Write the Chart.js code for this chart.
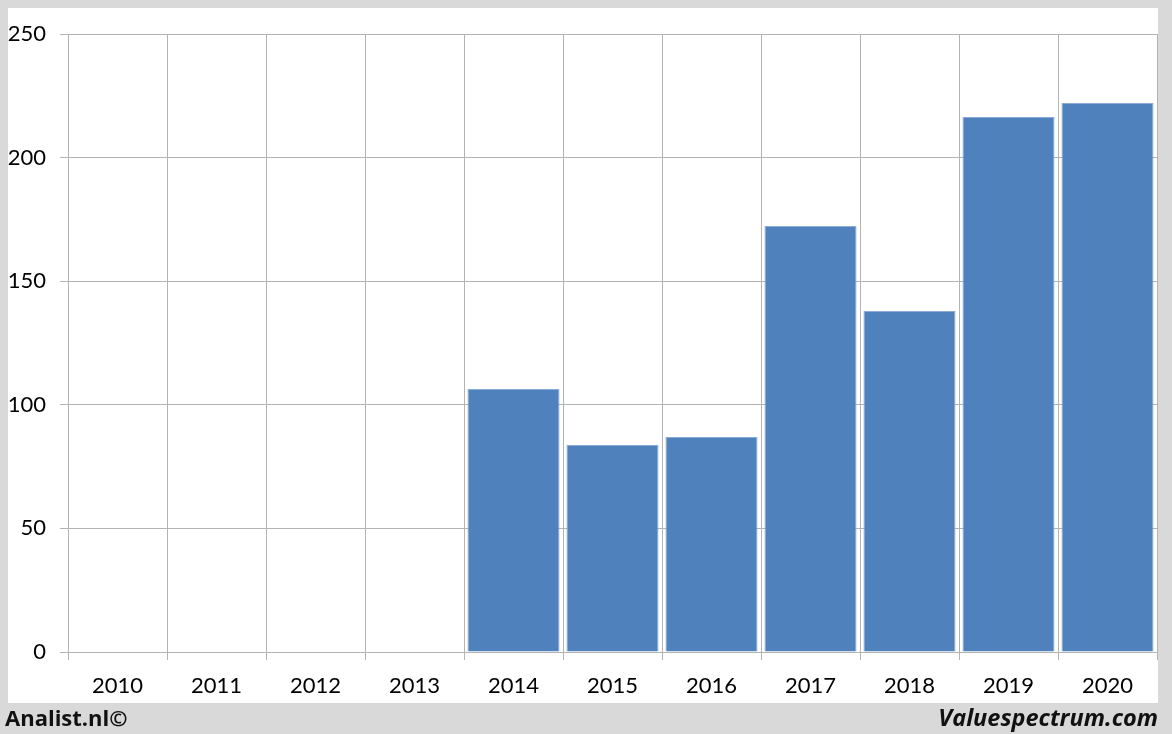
<!DOCTYPE html>
<html>
<head>
<meta charset="utf-8">
<script src="https://cdn.jsdelivr.net/npm/chart.js@4"></script>
<style>
  html, body { margin: 0; padding: 0; }
  body { width: 1172px; height: 734px; background: #d9d9d9; position: relative; overflow: hidden; }
  #panel { position: absolute; left: 8px; top: 8px; width: 1150px; height: 695px; background: #fff; }
  #chartBox { position: absolute; left: 0; top: 0; width: 1172px; height: 734px; }
  .credit { position: absolute; top: 701px; font-family: "Open Sans", sans-serif; font-weight: bold; font-size: 22px; line-height: 32px; color: #111; }
  #left { left: 5px; }
  #right { right: 14px; font-style: italic; font-size: 23.5px; }
</style>
</head>
<body>
<div id="panel"></div>
<div id="chartBox"><canvas id="chart" width="1172" height="734"></canvas></div>
<div class="credit" id="left">Analist.nl©</div>
<div class="credit" id="right">Valuespectrum.com</div>
<script>
/* ================== DATA ================== */
const years = ["2010", "2011", "2012", "2013", "2014", "2015", "2016", "2017", "2018", "2019", "2020"];
const values = [null, null, null, null, 106.4, 83.7, 87.0, 172.3, 137.9, 216.4, 222.1];
const yTicks = [0, 50, 100, 150, 200, 250];

/* ================== CHART ================== */
const gridColor = "#b3b3b3";

new Chart(document.getElementById("chart"), {
  type: "bar",
  data: {
    labels: years,
    datasets: [{
      data: values,
      backgroundColor: "#4f81bd",
      borderColor: "#8aabd6",
      borderWidth: 1,
      barPercentage: 0.93,
      categoryPercentage: 1
    }]
  },
  options: {
    responsive: false,
    animation: false,
    layout: { padding: { left: 0, right: 15, top: 34, bottom: 0 } },
    plugins: { legend: { display: false }, tooltip: { enabled: false } },
    scales: {
      x: {
        grid: { color: gridColor, lineWidth: 1, tickLength: 8, offset: true },
        border: { color: gridColor },
        ticks: { color: "#000", font: { family: "Lato", size: 22 }, padding: 13, maxRotation: 0 },
        afterFit: (axis) => { axis.height = 82; }
      },
      y: {
        min: 0,
        max: 250,
        afterBuildTicks: (axis) => { axis.ticks = yTicks.map(v => ({ value: v })); },
        grid: { color: gridColor, lineWidth: 1, tickLength: 8 },
        border: { color: gridColor },
        ticks: { color: "#000", font: { family: "Lato", size: 22 }, padding: 14 },
        afterFit: (axis) => { axis.width = 68; }
      }
    }
  }
});
</script>
</body>
</html>
